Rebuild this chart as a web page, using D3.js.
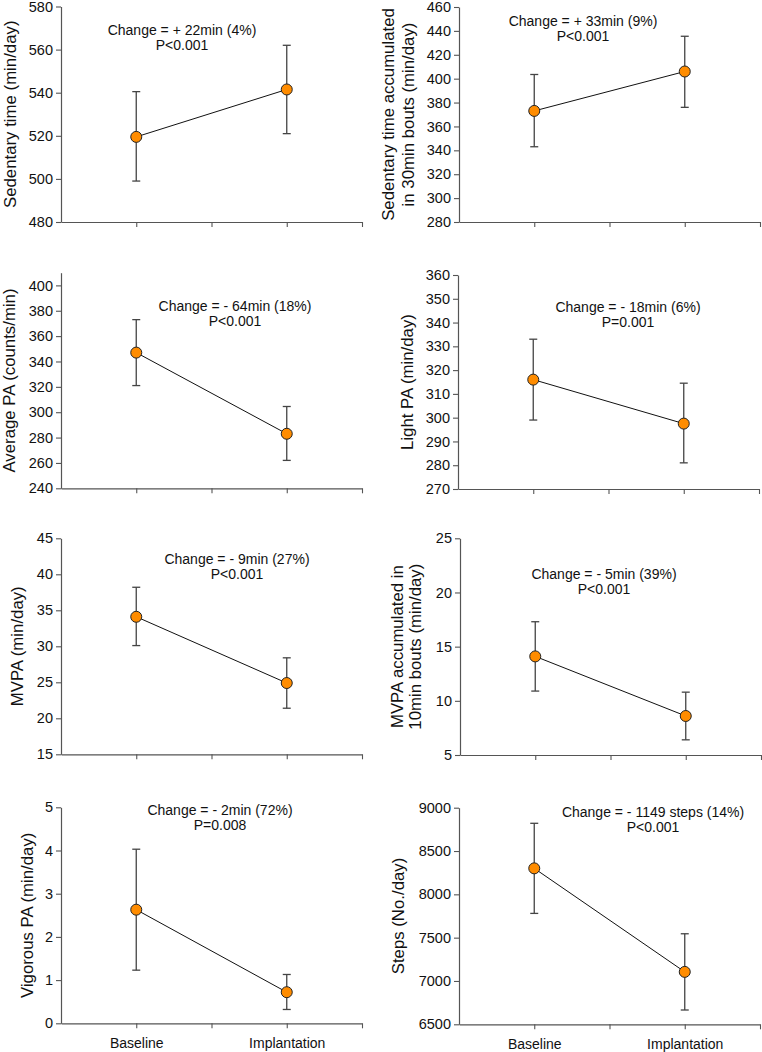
<!DOCTYPE html>
<html><head><meta charset="utf-8">
<script src="https://cdn.jsdelivr.net/npm/d3@7"></script>
<style>body{margin:0;background:#fff;} svg{display:block;font-family:"Liberation Sans",Arial,sans-serif;}</style>
</head><body>
<svg id="chart" width="762" height="1052"></svg>
<script>
// ---- data ----
const categories = ["Baseline", "Implantation"];
const yLabels = [
  ["Sedentary time (min/day)"],
  ["Sedentary time accumulated", "in 30min bouts (min/day)"],
  ["Average PA (counts/min)"],
  ["Light PA (min/day)"],
  ["MVPA (min/day)"],
  ["MVPA accumulated in", "10min bouts (min/day)"],
  ["Vigorous PA (min/day)"],
  ["Steps (No./day)"]
];
const yDomains = [[480,580],[280,460],[240,410],[270,360],[15,45],[5,25],[0,5],[6500,9000]];
const yTicks = [
  [480,500,520,540,560,580],
  [280,300,320,340,360,380,400,420,440,460],
  [240,260,280,300,320,340,360,380,400],
  [270,280,290,300,310,320,330,340,350,360],
  [15,20,25,30,35,40,45],
  [5,10,15,20,25],
  [0,1,2,3,4,5],
  [6500,7000,7500,8000,8500,9000]
];
const means  = [[519.5,541.5],[373,406],[347,283],[316,297.5],[34.1,24.9],[14.1,8.6],[2.63,0.72],[8300,7105]];
const lowers = [[499,521],[343,376],[321,262],[299,281],[30.1,21.4],[10.9,6.4],[1.23,0.32],[7780,6665]];
const uppers = [[540.5,562],[403.5,435.5],[373,304.5],[333,314.5],[38.2,28.4],[17.3,10.8],[4.03,1.13],[8820,7545]];
const changeText = [
  "Change = + 22min (4%)", "Change = + 33min (9%)",
  "Change = - 64min (18%)", "Change = - 18min (6%)",
  "Change = - 9min (27%)", "Change = - 5min (39%)",
  "Change = - 2min (72%)", "Change = - 1149 steps (14%)"
];
const pText = ["P<0.001","P<0.001","P<0.001","P=0.001","P<0.001","P<0.001","P=0.008","P<0.001"];
const xPositions = [1, 3];          // category positions on the x scale
const xTickValues = [1, 2, 3, 4];

// ---- layout ----
const layout = [
  {ax:61,  top:6.5,   bot:222,    lx:[10],      annX:182, annY:30},
  {ax:459, top:7,     bot:222,    lx:[388,408], annX:583, annY:21},
  {ax:61,  top:272.7, bot:488.3,  lx:[9],       annX:235, annY:306},
  {ax:458, top:275,   bot:489,    lx:[407],     annX:628, annY:307},
  {ax:61,  top:538.3, bot:754.3,  lx:[17],      annX:237, annY:559},
  {ax:460, top:538.3, bot:755,    lx:[397,415], annX:604, annY:574},
  {ax:61,  top:807.3, bot:1023.3, lx:[27],      annX:220, annY:810, xl:true},
  {ax:459, top:807.7, bot:1024.3, lx:[398],     annX:653, annY:812, xl:true}
];

const svg = d3.select("#chart");
const axisColor = "#555";
const fmt = d3.format("d");

layout.forEach((L, i) => {
  const g = svg.append("g");
  const x = d3.scaleLinear().domain([0, 4]).range([L.ax, L.ax + 301]);
  const y = d3.scaleLinear().domain(yDomains[i]).range([L.bot, L.top]);

  // y axis
  const ya = g.append("g").attr("transform", `translate(${L.ax},0)`)
    .call(d3.axisLeft(y).tickValues(yTicks[i]).tickFormat(fmt).tickSize(5).tickPadding(3).tickSizeOuter(0));
  ya.select(".domain").attr("stroke", axisColor).attr("stroke-width", 1.2);
  ya.selectAll(".tick line").attr("stroke", axisColor).attr("stroke-width", 1.1);
  ya.selectAll(".tick text").attr("font-size", "14.5px").attr("fill", "#111")
    .attr("font-family", "Liberation Sans, Arial, sans-serif");

  // x axis
  const xa = g.append("g").attr("transform", `translate(0,${L.bot})`)
    .call(d3.axisBottom(x).tickValues(xTickValues).tickSize(5).tickPadding(10).tickSizeOuter(0)
      .tickFormat(d => L.xl ? (d === xPositions[0] ? categories[0] : d === xPositions[1] ? categories[1] : "") : ""));
  xa.select(".domain").attr("stroke", axisColor).attr("stroke-width", 1.2);
  xa.selectAll(".tick line").attr("stroke", axisColor).attr("stroke-width", 1.1);
  xa.selectAll(".tick text").attr("font-size", "14px").attr("fill", "#111")
    .attr("font-family", "Liberation Sans, Arial, sans-serif");

  // y label
  const cy = (L.top + L.bot) / 2;
  yLabels[i].forEach((t, k) => {
    g.append("text")
      .attr("transform", `translate(${L.lx[k]},${cy}) rotate(-90)`)
      .attr("text-anchor", "middle").attr("dominant-baseline", "central")
      .attr("font-size", "16.8px").attr("fill", "#111").text(t);
  });

  // annotation
  g.append("text").attr("x", L.annX).attr("y", L.annY + 5).attr("text-anchor", "middle")
    .attr("font-size", "14px").attr("fill", "#111").text(changeText[i]);
  g.append("text").attr("x", L.annX).attr("y", L.annY + 20).attr("text-anchor", "middle")
    .attr("font-size", "14px").attr("fill", "#111").text(pText[i]);

  const pts = xPositions.map((p, k) => ({x: p, m: means[i][k], lo: lowers[i][k], hi: uppers[i][k]}));

  // error bars
  pts.forEach(d => {
    g.append("line").attr("x1", x(d.x)).attr("x2", x(d.x)).attr("y1", y(d.lo)).attr("y2", y(d.hi))
      .attr("stroke", "#444").attr("stroke-width", 1.3);
    [d.lo, d.hi].forEach(v => {
      g.append("line").attr("x1", x(d.x) - 4).attr("x2", x(d.x) + 4).attr("y1", y(v)).attr("y2", y(v))
        .attr("stroke", "#444").attr("stroke-width", 1.3);
    });
  });

  // connecting line
  g.append("path").datum(pts)
    .attr("d", d3.line().x(d => x(d.x)).y(d => y(d.m)))
    .attr("fill", "none").attr("stroke", "#111").attr("stroke-width", 1);

  // markers
  g.selectAll("circle.pt").data(pts).enter().append("circle")
    .attr("cx", d => x(d.x)).attr("cy", d => y(d.m)).attr("r", 5.5)
    .attr("fill", "#FF8C00").attr("stroke", "#222").attr("stroke-width", 1);
});
</script>
</body></html>
